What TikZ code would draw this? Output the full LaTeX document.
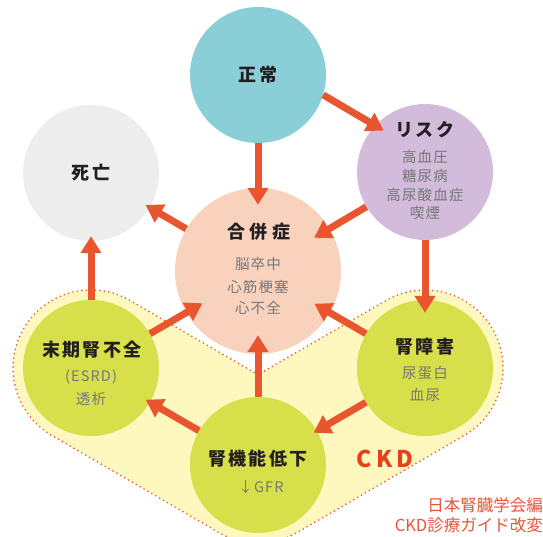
\documentclass[tikz,border=0pt]{standalone}
\usepackage{fontspec}
\setmainfont{Noto Sans CJK JP}
\usetikzlibrary{arrows.meta}
\definecolor{arrowc}{HTML}{E9552F}
\definecolor{zc}{HTML}{8ACFD8}
\definecolor{rkc}{HTML}{D2BBDB}
\definecolor{sbc}{HTML}{EDEDED}
\definecolor{gpc}{HTML}{F9D2BE}
\definecolor{grc}{HTML}{D7DF4A}
\definecolor{ckdfill}{HTML}{FEF7BE}
\definecolor{ckdtext}{HTML}{E8401C}
\definecolor{titlec}{HTML}{231F20}
\definecolor{subc}{HTML}{777777}
\definecolor{srcc}{HTML}{E8553A}
\begin{document}
\begin{tikzpicture}[x=1pt,y=-1pt,
  circ/.style={circle, minimum size=136pt, inner sep=0pt},
  arr/.style={draw=arrowc, line width=7pt, -{Triangle[width=20pt,length=17pt]}},
  ttl/.style={font=\bfseries\fontsize{18}{20}\selectfont\addfontfeatures{LetterSpace=12}, text=titlec, inner sep=0pt},
  sub/.style={font=\fontsize{14.5}{16}\selectfont\addfontfeatures{LetterSpace=8}, text=subc, inner sep=0pt},
  srctext/.style={font=\fontsize{16.5}{18}\selectfont, text=srcc, inner sep=0pt, anchor=east}
]
\useasboundingbox (0,0) rectangle (543,537);
% CKD region
\path[fill=ckdfill, draw=arrowc, line width=1.8pt, line cap=round, dash pattern=on 0pt off 4.5pt]
  (258,374.7) -- (130.2,300.5) arc[start angle=59.85, end angle=239.85, radius=78pt]
  -- (218.8,532.5) arc[start angle=239.85, end angle=300.15, radius=78pt]
  -- (464.2,435.5) arc[start angle=-59.85, end angle=120.15, radius=78pt]
  -- cycle;
% circles
\node[circ, fill=zc]  (z)  at (258,75)  {};
\node[circ, fill=rkc] (rk) at (425,172) {};
\node[circ, fill=sbc] (sb) at (91,173)  {};
\node[circle, minimum size=166pt, inner sep=0pt, fill=gpc] (gp) at (258,271) {};
\node[circ, fill=grc] (mk) at (91,368)  {};
\node[circ, fill=grc] (js) at (425,368) {};
\node[circ, fill=grc] (tk) at (258,465) {};
% texts
\node[ttl] (zt) at (258,75) {正常};
\node[ttl] (rkt) at (425,130) {リスク};
\node[sub] (rk1) at (425,157) {高血圧};
\node[sub] (rk2) at (425,176) {糖尿病};
\node[sub] (rk3) at (425,195) {高尿酸血症};
\node[sub] (rk4) at (425,213) {喫煙};
\node[ttl] (sbt) at (91,173) {死亡};
\node[ttl, font=\bfseries\fontsize{18}{20}\selectfont\addfontfeatures{LetterSpace=24}] (gpt) at (259,232) {合併症};
\node[sub] (gp1) at (258,264) {脳卒中};
\node[sub] (gp2) at (258,287) {心筋梗塞};
\node[sub] (gp3) at (258,308) {心不全};
\node[ttl] (mkt) at (92,350) {末期腎不全};
\node[sub] (mk1) at (91,377) {(ESRD)};
\node[sub] (mk2) at (91,399) {透析};
\node[ttl] (jst) at (425,347) {腎障害};
\node[sub] (js1) at (425,373) {尿蛋白};
\node[sub] (js2) at (425,395) {血尿};
\node[ttl] (tkt) at (258,459) {腎機能低下};
\node[sub] (tk1) at (261,487) {↓GFR};
\node[font=\bfseries\fontsize{23}{25}\selectfont\addfontfeatures{LetterSpace=18}, text=ckdtext, inner sep=0pt] (ckd) at (385,459) {CKD};
\node[srctext] (src1) at (543,505) {日本腎臓学会編};
\node[srctext] (src2) at (543,525) {CKD診療ガイド改変};
% arrows
\draw[arr, shorten >=-17pt] (z) -- (gp);
\draw[arr, shorten >=-10pt] (z.-17) -- (rk.137);
\draw[arr, shorten >=-18pt] (rk) -- (gp);
\draw[arr, shorten >=-13pt] (rk) -- (js);
\draw[arr, shorten >=-5pt] (gp) -- (sb);
\draw[arr, shorten >=-5pt] (mk) -- (sb);
\draw[arr, shorten >=-19pt] (mk) -- (gp);
\draw[arr, shorten >=-18pt] (js) -- (gp);
\draw[arr, shorten >=-19pt] (tk) -- (gp);
\draw[arr, shorten >=-4pt] (js) -- (tk);
\draw[arr, shorten >=-5pt] (tk) -- (mk);
\end{tikzpicture}
\end{document}
